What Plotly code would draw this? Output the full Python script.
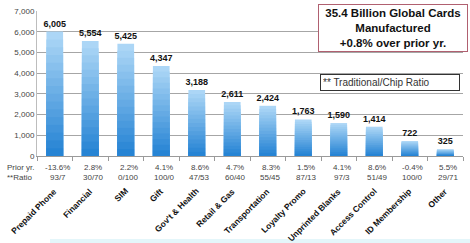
import plotly.graph_objects as go

categories = ["Prepaid Phone", "Financial", "SIM", "Gift", "Gov't & Health",
              "Retail & Gas", "Transportation", "Loyalty Promo", "Unprinted Blanks",
              "Access Control", "ID Membership", "Other"]
values = [6005, 5554, 5425, 4347, 3188, 2611, 2424, 1763, 1590, 1414, 722, 325]
prior_yr = ["-13.6%", "2.8%", "2.2%", "4.1%", "8.6%", "4.7%", "8.3%", "1.5%",
            "4.1%", "8.6%", "-0.4%", "5.5%"]
ratio = ["93/7", "30/70", "0/100", "100/0", "47/53", "60/40", "55/45", "87/13",
         "97/3", "51/49", "100/0", "29/71"]
y_ticks = [0, 1000, 2000, 3000, 4000, 5000, 6000, 7000]

FONT = "Liberation Sans, Arial, sans-serif"

# gradient: light at top, dark at bottom (layered bars)
top_c = (172, 214, 246)
bot_c = (38, 132, 212)
steps = 16
fig = go.Figure()
for i in range(steps):
    f = 1 - i / steps
    t = i / (steps - 1)
    c = tuple(int(round(top_c[k] + (bot_c[k] - top_c[k]) * t)) for k in range(3))
    kw = {}
    if i == 0:
        kw = dict(text=[f"{v:,}" for v in values], texttemplate="<b>%{text}</b>",
                  textposition="outside", constraintext="none",
                  textfont=dict(family=FONT, size=9, color="#111"))
    fig.add_trace(go.Bar(
        x=categories, y=[v * f for v in values],
        marker=dict(color="rgb(%d,%d,%d)" % c, line=dict(width=0)),
        width=0.47, hoverinfo="skip", showlegend=False, cliponaxis=False, **kw,
    ))

fig.update_layout(
    width=470, height=243,
    margin=dict(l=37, r=7, t=11, b=87),
    paper_bgcolor="white", plot_bgcolor="white",
    barmode="overlay",
    font=dict(family=FONT, color="#333"),
    shapes=[dict(type="rect", xref="paper", yref="paper",
                 x0=(50 - 37) / 426, x1=(470 - 37) / 426,
                 y0=(156 - 243) / 145, y1=(156 - 239) / 145,
                 fillcolor="#e4f6fa", line=dict(width=0), layer="below")],
)
fig.update_yaxes(
    range=[0, 7000], tickvals=y_ticks, tickformat=",",
    tickfont=dict(family=FONT, size=8, color="#444"),
    showgrid=True, gridcolor="#a6a6a6", gridwidth=1,
    showline=True, linecolor="#bdbdbd", ticks="", zeroline=False,
)
fig.update_xaxes(
    showticklabels=False, showline=True, linecolor="#9a9a9a",
    ticks="outside", tickson="boundaries", ticklen=4, tickcolor="#9a9a9a",
    range=[-0.5, len(categories) - 0.5],
)

ann = []
for c, p, r in zip(categories, prior_yr, ratio):
    ann.append(dict(x=c, xref="x", y=-0.035, yref="paper", text=p, showarrow=False,
                    xanchor="center", yanchor="top", xshift=3,
                    font=dict(family=FONT, size=8, color="#444")))
    ann.append(dict(x=c, xref="x", y=-0.105, yref="paper", text=r, showarrow=False,
                    xanchor="center", yanchor="top", xshift=3,
                    font=dict(family=FONT, size=8, color="#444")))
    ann.append(dict(x=c, xref="x", y=-0.19, yref="paper", text="<b>%s</b>" % c,
                    showarrow=False, textangle=-45, xanchor="right", yanchor="top",
                    xshift=7, font=dict(family=FONT, size=8.5, color="#111")))
ann.append(dict(x=(5 - 37) / 426, xref="paper", y=-0.035, yref="paper", text="Prior yr.",
                showarrow=False, xanchor="left", yanchor="top",
                font=dict(family=FONT, size=8, color="#444")))
ann.append(dict(x=(5 - 37) / 426, xref="paper", y=-0.105, yref="paper", text="**Ratio",
                showarrow=False, xanchor="left", yanchor="top",
                font=dict(family=FONT, size=8, color="#444")))
ann.append(dict(x=(468 - 37) / 426, xref="paper", y=(156 - 4) / 145, yref="paper",
                text="<b>35.4 Billion Global Cards</b><br><b>Manufactured</b><br><b>+0.8% over prior yr.</b>",
                showarrow=False, xanchor="right", yanchor="top", align="center",
                bordercolor="#b06070", borderwidth=1, borderpad=2, bgcolor="white",
                width=144, font=dict(family=FONT, size=11.5, color="#111")))
ann.append(dict(x=(460 - 37) / 426, xref="paper", y=(156 - 74) / 145, yref="paper",
                text="** Traditional/Chip Ratio", showarrow=False,
                xanchor="right", yanchor="top", align="left",
                bordercolor="#333", borderwidth=1, borderpad=2, bgcolor="white",
                width=134, font=dict(family=FONT, size=10, color="#333")))
fig.update_layout(annotations=ann)

fig.write_html("out.html")
